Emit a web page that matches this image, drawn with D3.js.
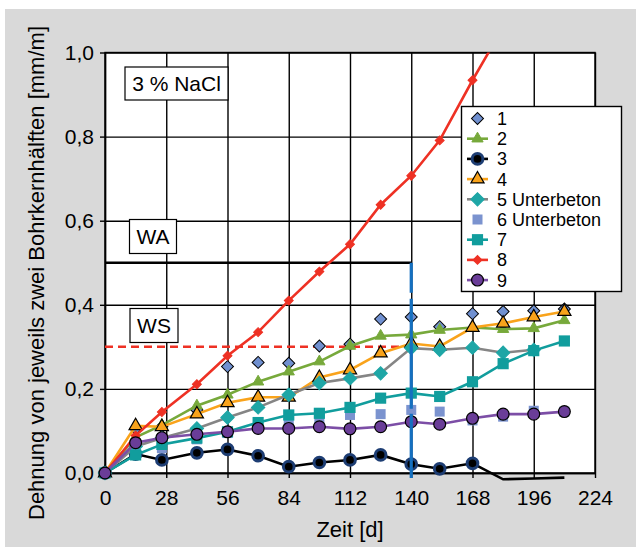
<!DOCTYPE html>
<html>
<head>
<meta charset="utf-8">
<script src="https://cdn.jsdelivr.net/npm/d3@7"></script>
<style>
  body { margin: 0; background: #fff; }
  text { font-family: "Liberation Sans", Arial, sans-serif; fill: #000; }
</style>
</head>
<body>
<script>

// measuring days
var days = [0, 14, 26, 42, 56, 70, 84, 98, 112, 126, 140, 153, 168, 182, 196, 210];

// strain per core [mm/m], null = no value
var s1 = [0, 0.105, 0.11, 0.15, 0.253, 0.263, 0.261, 0.302, 0.306, 0.366, 0.371, 0.348, 0.379, 0.384, 0.386, 0.390];
var s2 = [0, 0.085, 0.114, 0.160, 0.186, 0.217, 0.241, 0.265, 0.302, 0.326, 0.329, 0.340, 0.346, 0.342, 0.344, 0.363];
var s3 = [0, 0.045, 0.031, 0.048, 0.056, 0.041, 0.015, 0.025, 0.031, 0.043, 0.021, 0.010, 0.023, -0.015, -0.013, -0.011];
var s4 = [0, 0.112, 0.110, 0.140, 0.167, 0.180, 0.180, 0.227, 0.245, 0.285, 0.308, 0.301, 0.346, 0.356, 0.371, 0.384];
var s5 = [0, 0.063, 0.083, 0.106, 0.132, 0.156, 0.186, 0.214, 0.225, 0.237, 0.297, 0.293, 0.298, 0.286, 0.293, null];
var s6 = [0, 0.045, 0.059, 0.080, 0.095, 0.110, 0.125, 0.130, 0.138, 0.140, 0.150, 0.146, 0.125, 0.134, 0.148, 0.146];
var s7 = [0, 0.043, 0.068, 0.083, 0.098, 0.120, 0.138, 0.142, 0.156, 0.178, 0.190, 0.182, 0.217, 0.260, 0.291, 0.314];
var s8 = [0, 0.089, 0.145, 0.211, 0.279, 0.335, 0.410, 0.479, 0.544, 0.638, 0.707, 0.791, 0.934, 1.06, null, null];
var s9 = [0, 0.072, 0.084, 0.092, 0.098, 0.106, 0.106, 0.110, 0.105, 0.110, 0.122, 0.116, 0.130, 0.140, 0.140, 0.146];

var seriesNames = ["1", "2", "3", "4", "5 Unterbeton", "6 Unterbeton", "7", "8", "9"];

// limits: WA 0,5 and WS 0,3 up to day 140
var limitWA = 0.5, limitWS = 0.3, limitDay = 140;

var xTicks = [0, 28, 56, 84, 112, 140, 168, 196, 224];
var yTicks = [0, 0.2, 0.4, 0.6, 0.8, 1.0];

var W = 636, H = 547;
var pLeft = 105, pRight = 595, pTop = 52.5, pBottom = 473;

var svg = d3.select("body").append("svg")
    .attr("width", W).attr("height", H);

svg.append("rect").attr("x", 5).attr("y", 9)
    .attr("width", W - 5).attr("height", H - 9)
    .attr("fill", "#d9d9d9");

var x = d3.scaleLinear().domain([0, 224]).range([pLeft, pRight]);
var y = d3.scaleLinear().domain([0, 1]).range([pBottom, pTop]);

svg.append("rect").attr("x", pLeft).attr("y", pTop)
    .attr("width", pRight - pLeft).attr("height", pBottom - pTop)
    .attr("fill", "#fff");

var fmt = function(d) { return d3.format(".1f")(d).replace(".", ","); };

// grid
svg.append("g").attr("transform", "translate(0," + pBottom + ")")
    .call(d3.axisBottom(x).tickValues(xTicks).tickSize(-(pBottom - pTop)).tickFormat(""))
    .call(g => g.select(".domain").remove())
    .selectAll("line").attr("stroke", "#000").attr("stroke-width", 1.4);
svg.append("g").attr("transform", "translate(" + pLeft + ",0)")
    .call(d3.axisLeft(y).tickValues(yTicks).tickSize(-(pRight - pLeft)).tickFormat(""))
    .call(g => g.select(".domain").remove())
    .selectAll("line").attr("stroke", "#000").attr("stroke-width", 1.4);

svg.append("rect").attr("x", pLeft).attr("y", pTop)
    .attr("width", pRight - pLeft).attr("height", pBottom - pTop)
    .attr("fill", "none").attr("stroke", "#000").attr("stroke-width", 1.4);

// axes
var xAxis = svg.append("g").attr("transform", "translate(0," + pBottom + ")")
    .call(d3.axisBottom(x).tickValues(xTicks).tickSize(5).tickSizeOuter(0).tickPadding(12));
var yAxis = svg.append("g").attr("transform", "translate(" + pLeft + ",0)")
    .call(d3.axisLeft(y).tickValues(yTicks).tickFormat(fmt).tickSize(5).tickSizeOuter(0).tickPadding(6));
[xAxis, yAxis].forEach(function(a) {
  a.select(".domain").attr("stroke", "#000").attr("stroke-width", 1.4);
  a.selectAll("line").attr("stroke", "#000").attr("stroke-width", 1.4);
  a.selectAll("text").attr("font-size", 21).attr("font-family", "Liberation Sans, Arial, sans-serif").attr("fill", "#000");
});

svg.append("text").attr("x", (pLeft + pRight) / 2).attr("y", 537)
    .attr("text-anchor", "middle").attr("font-size", 22).text("Zeit [d]");
svg.append("text").attr("transform", "translate(44," + 273 + ") rotate(-90)")
    .attr("text-anchor", "middle").attr("font-size", 22)
    .text("Dehnung von jeweils zwei Bohrkernhälften [mm/m]");

svg.append("clipPath").attr("id", "clip").append("rect")
    .attr("x", pLeft - 10).attr("y", pTop).attr("width", pRight - pLeft + 20).attr("height", pBottom - pTop + 20);

// limit lines
svg.append("line").attr("x1", x(0)).attr("x2", x(limitDay))
    .attr("y1", y(limitWA)).attr("y2", y(limitWA))
    .attr("stroke", "#000").attr("stroke-width", 2.5);
svg.append("line").attr("x1", x(0)).attr("x2", x(limitDay))
    .attr("y1", y(limitWS)).attr("y2", y(limitWS))
    .attr("stroke", "#ee3124").attr("stroke-width", 2.5).attr("stroke-dasharray", "8,5");

var series = [
  { name: seriesNames[0], values: s1, line: null, shape: "diamond", size: 72, fill: "#7090d0", stroke: "#000", sw: 1 },
  { name: seriesNames[1], values: s2, line: "#77a93b", shape: "triangle", size: 55, fill: "#77a93b", stroke: "#77a93b", sw: 1 },
  { name: seriesNames[2], values: s3, line: "#000", shape: "circle", size: 90, fill: "#000", stroke: "#1d3d73", sw: 3 },
  { name: seriesNames[3], values: s4, line: "#f9a31b", shape: "triangle", size: 75, fill: "#f9a31b", stroke: "#000", sw: 1.2 },
  { name: seriesNames[4], values: s5, line: "#858585", shape: "diamond", size: 90, fill: "#1ea6a6", stroke: "#1ea6a6", sw: 1 },
  { name: seriesNames[5], values: s6, line: null, shape: "square", size: 100, fill: "#7b93cf", stroke: "#7b93cf", sw: 0 },
  { name: seriesNames[6], values: s7, line: "#119d9d", shape: "square", size: 125, fill: "#119d9d", stroke: "#119d9d", sw: 0 },
  { name: seriesNames[7], values: s8, line: "#ee3124", shape: "diamond", size: 40, fill: "#ee3124", stroke: "#ee3124", sw: 1 },
  { name: seriesNames[8], values: s9, line: "#7c4ea6", shape: "circle", size: 110, fill: "#6a3d98", stroke: "#000", sw: 1.2 }
];

var shapes = { diamond: d3.symbolSquare, triangle: d3.symbolTriangle, circle: d3.symbolCircle, square: d3.symbolSquare };

function marker(sel, s) {
  sel.attr("d", d3.symbol().type(shapes[s.shape]).size(s.size))
    .attr("fill", s.fill).attr("stroke", s.stroke).attr("stroke-width", s.sw);
}
function place(s, px, py) {
  return "translate(" + px + "," + py + ")" + (s.shape === "diamond" ? " rotate(45)" : "");
}

var line = d3.line().defined(d => d.v !== null).x(d => x(d.t)).y(d => y(d.v));

series.forEach(function(s) {
  var pts = days.map((t, i) => ({ t: t, v: s.values[i] }));
  var g = svg.append("g");
  if (s.line) {
    g.append("path").datum(pts).attr("d", line)
      .attr("clip-path", "url(#clip)")
      .attr("fill", "none").attr("stroke", s.line).attr("stroke-width", 2.6);
  }
  g.selectAll("path.m").data(pts.filter(d => d.v !== null && d.v >= 0 && d.v <= 1))
    .enter().append("path").attr("class", "m")
    .call(marker, s)
    .attr("transform", d => place(s, x(d.t), y(d.v)));
});

// day 140 line
svg.append("line").attr("x1", x(limitDay)).attr("x2", x(limitDay))
    .attr("y1", y(limitWA)).attr("y2", y(-0.012))
    .attr("stroke", "#1570c0").attr("stroke-width", 3.2)
    .attr("stroke-dasharray", "30,6,110,5,80");

// text boxes
function label(txt, x0, y0, w, h) {
  svg.append("rect").attr("x", x0).attr("y", y0).attr("width", w).attr("height", h)
    .attr("fill", "#fff").attr("stroke", "#000").attr("stroke-width", 1.2);
  svg.append("text").attr("x", x0 + w / 2).attr("y", y0 + h / 2).attr("dy", "0.36em")
    .attr("text-anchor", "middle").attr("font-size", 21).text(txt);
}
label("3 % NaCl", 125, 67, 103, 33);
label("WA", 129.5, 219.5, 47, 34);
label("WS", 130, 308.5, 48, 34);

// legend
var lg = svg.append("g");
lg.append("rect").attr("x", 461.5).attr("y", 106.5).attr("width", 160).attr("height", 185)
  .attr("fill", "#fff").attr("stroke", "#000").attr("stroke-width", 1.4);
series.forEach(function(s, i) {
  var cy = 118.5 + i * 20.2;
  if (s.line) {
    lg.append("line").attr("x1", 467).attr("x2", 488).attr("y1", cy).attr("y2", cy)
      .attr("stroke", s.line).attr("stroke-width", 2.6);
  }
  lg.append("path").call(marker, s).attr("transform", place(s, 477.5, cy));
  lg.append("text").attr("x", 497).attr("y", cy).attr("dy", "0.36em")
    .attr("font-size", 18).text(s.name);
});

</script>
</body>
</html>
